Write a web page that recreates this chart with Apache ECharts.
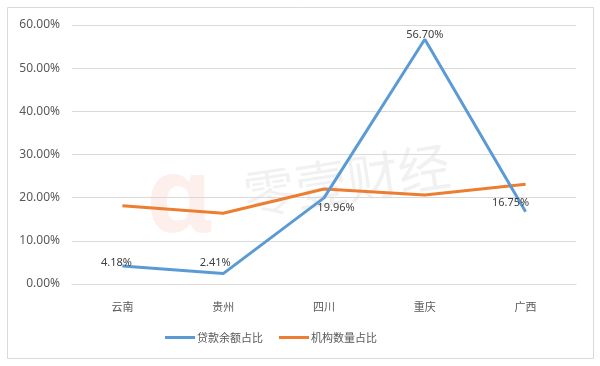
<!DOCTYPE html>
<html><head><meta charset="utf-8">
<script src="https://cdn.jsdelivr.net/npm/echarts@6/dist/echarts.min.js"></script>
<style>html,body{margin:0;padding:0;background:#fff}#c{width:600px;height:366px}</style>
</head><body><div id="c"></div>
<script>
var categories = ['云南', '贵州', '四川', '重庆', '广西'];
var loanShare = [4.18, 2.41, 19.96, 56.70, 16.75];
var orgShare = [18.1, 16.4, 22.0, 20.6, 23.1];
var seriesNames = ['贷款余额占比', '机构数量占比'];
var labelPos = [[-6, 7], [-8, 0], [12, 21], [0, 6], [-15, 2]];

var chart = echarts.init(document.getElementById('c'));
var txt = '#595959';
chart.setOption({
  animation: false,
  graphic: [
    {type: 'rect', shape: {x: 7.5, y: 7.5, width: 586, height: 351}, style: {fill: 'none', stroke: '#d9d9d9', lineWidth: 1}, z: -10},
    {type: 'text', x: 146, y: 150, style: {text: 'α', font: 'bold 104px "Noto Sans"', fill: 'rgba(240,120,90,0.12)'}, z: -5},
    {type: 'text', x: 240, y: 170, rotation: 0.15, style: {text: '零壹财经', font: '52px "Noto Sans CJK SC"', fill: 'rgba(160,160,160,0.15)'}, z: -5}
  ],
  grid: {left: 72, right: 24, top: 25, bottom: 82, containLabel: false},
  legend: {
    bottom: 18, left: 160, itemWidth: 30, itemHeight: 3, itemGap: 16,
    icon: 'rect',
    textStyle: {color: txt, fontSize: 11, fontFamily: '"Noto Sans CJK SC"', padding: [0, 0, 0, -3]},
    data: seriesNames
  },
  xAxis: {
    type: 'category', data: categories,
    axisLine: {show: true, lineStyle: {color: '#d9d9d9'}},
    axisTick: {show: false},
    axisLabel: {color: txt, fontSize: 11, margin: 17, fontFamily: '"Noto Sans CJK SC"'}
  },
  yAxis: {
    type: 'value', min: 0, max: 60, interval: 10,
    axisLine: {show: false}, axisTick: {show: false},
    splitLine: {lineStyle: {color: '#d9d9d9'}},
    axisLabel: {color: txt, fontSize: 12, margin: 12, fontFamily: '"Noto Sans"', formatter: function (v) { return v.toFixed(2) + '%'; }}
  },
  series: [
    {
      name: seriesNames[0], type: 'line', symbol: 'circle', symbolSize: 0, showSymbol: true,
      lineStyle: {color: '#5b9bd5', width: 3}, itemStyle: {color: '#5b9bd5'},
      data: loanShare.map(function (v, i) {
        return {value: v, label: {offset: labelPos[i]}};
      }),
      label: {show: true, position: 'top', color: '#404040', fontSize: 11, fontFamily: '"Noto Sans"',
        formatter: function (p) { return p.value.toFixed(2) + '%'; }},
      z: 3
    },
    {
      name: seriesNames[1], type: 'line', symbol: 'none',
      lineStyle: {color: '#ed7d31', width: 3}, itemStyle: {color: '#ed7d31'},
      data: orgShare, z: 2
    }
  ]
});
</script></body></html>
